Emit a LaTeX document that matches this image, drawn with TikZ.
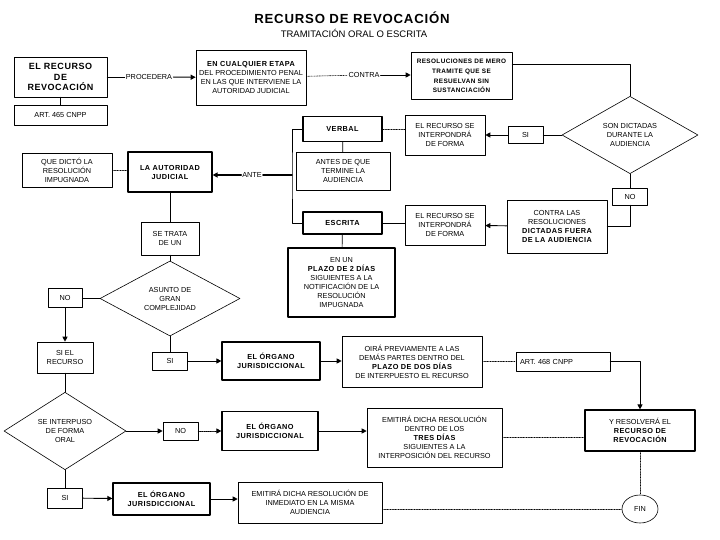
\documentclass[tikz,border=0pt]{standalone}
\usepackage{fontspec}
\setmainfont{Liberation Sans}
\newfontfamily\widefont{Liberation Sans}[LetterSpace=6]
\newcommand\hvy[1]{{\widefont\bfseries #1}}
\usetikzlibrary{arrows.meta,shapes.geometric}

\begin{document}
\begin{tikzpicture}[x=1pt,y=-1pt,line cap=round,line join=round,
  txt/.style={font=\fontsize{7.3}{9}\selectfont,align=center,inner sep=1pt},
  box/.style={txt,draw,line width=0.6pt},
  heavybox/.style={box,line width=1.2pt},
  ask/.style={txt,draw,diamond,line width=0.6pt,inner sep=0pt},
  wire/.style={line width=0.7pt},
  faint/.style={line width=0.6pt,densely dotted},
  tip/.style={-{Triangle[length=5pt,width=5pt]},line width=0.9pt}]
  \useasboundingbox (0,0) rectangle (720,540);
  \node[inner sep=0pt,font=\widefont\bfseries\fontsize{13.2}{15}\selectfont] (title) at (352,18) {RECURSO DE REVOCACIÓN};
  \node[inner sep=0pt,font=\fontsize{9.5}{11}\selectfont] (subtitle) at (354,33) {TRAMITACIÓN ORAL O ESCRITA};
  \node[box,minimum width=93,minimum height=40,font=\widefont\bfseries\fontsize{9}{10.5}\selectfont] (recurso) at (60.5,77) {EL RECURSO\\DE\\REVOCACIÓN};
  \node[box,minimum width=93,minimum height=20] (art465) at (60.5,115) {ART.\ 465 CNPP};
  \node[txt] (procedera) at (149,77) {PROCEDERA};
  \node[box,minimum width=110,minimum height=55] (etapa) at (251,77.5) {\hvy{EN CUALQUIER ETAPA}\\DEL PROCEDIMIENTO PENAL\\EN LAS QUE INTERVIENE LA\\AUTORIDAD JUDICIAL};
  \node[txt] (contra) at (364,75) {CONTRA};
  \node[box,minimum width=101,minimum height=47,font=\fontsize{6.4}{9.6}\selectfont] (mero) at (461.5,76) {\hvy{RESOLUCIONES DE MERO}\\\hvy{TRAMITE QUE SE}\\\hvy{RESUELVAN SIN}\\\hvy{SUSTANCIACIÓN}};
  \node[ask,minimum width=136,minimum height=64] (dictadas) at (630,135) {SON DICTADAS\\DURANTE LA\\AUDIENCIA};
  \node[box,minimum width=35,minimum height=17] (si1) at (525.5,135) {SI};
  \node[box,minimum width=80,minimum height=40] (forma1) at (445,135) {EL RECURSO SE\\INTERPONDRÁ\\DE FORMA};
  \node[heavybox,minimum width=79,minimum height=25] (verbal) at (342.5,129) {\hvy{VERBAL}};
  \node[box,minimum width=94,minimum height=38] (antes) at (343,171) {ANTES DE QUE\\TERMINE LA\\AUDIENCIA};
  \node[heavybox,minimum width=79,minimum height=22] (escrita) at (342.5,223) {\hvy{ESCRITA}};
  \node[box,minimum width=80,minimum height=40] (forma2) at (445,225) {EL RECURSO SE\\INTERPONDRÁ\\DE FORMA};
  \node[box,minimum width=100,minimum height=53] (fuera) at (557,226.5) {CONTRA LAS\\RESOLUCIONES\\\hvy{DICTADAS FUERA}\\\hvy{DE LA AUDIENCIA}};
  \node[box,minimum width=35,minimum height=17] (no1) at (630,196.5) {NO};
  \node[heavybox,minimum width=107,minimum height=69] (plazo2) at (341.5,282.5) {EN UN\\\hvy{PLAZO DE 2 DÍAS}\\SIGUIENTES A LA\\NOTIFICACIÓN DE LA\\RESOLUCIÓN\\IMPUGNADA};
  \coordinate (brk) at (292,175);
  \node[txt] (ante) at (252,175) {ANTE};
  \node[heavybox,minimum width=84,minimum height=40] (autoridad) at (170,172) {\hvy{LA AUTORIDAD}\\\hvy{JUDICIAL}};
  \node[box,minimum width=90,minimum height=34] (dicto) at (67,170) {QUE DICTÓ LA\\RESOLUCIÓN\\IMPUGNADA};
  \node[box,minimum width=58,minimum height=33] (setrata) at (170,238.5) {SE TRATA\\DE UN};
  \node[ask,minimum width=140,minimum height=63] (asunto) at (170,298.5) {ASUNTO DE\\GRAN\\COMPLEJIDAD};
  \node[box,minimum width=34,minimum height=19] (no2) at (65,298) {NO};
  \node[box,minimum width=56,minimum height=31] (sielrec) at (65,357.5) {SI EL\\RECURSO};
  \node[box,minimum width=35,minimum height=18] (si2) at (170,361) {SI};
  \node[heavybox,minimum width=98,minimum height=38] (organo1) at (271,361) {\hvy{EL ÓRGANO}\\\hvy{JURISDICCIONAL}};
  \node[box,minimum width=140,minimum height=51] (oira) at (412,361.5) {OIRÁ PREVIAMENTE A LAS\\DEMÁS PARTES DENTRO DEL\\\hvy{PLAZO DE DOS DÍAS}\\DE INTERPUESTO EL RECURSO};
  \node[box,minimum width=94,minimum height=19,text width=86,align=left] (art468) at (563,361.5) {ART.\ 468 CNPP};
  \node[heavybox,minimum width=110,minimum height=41] (resolvera) at (640,430.5) {Y RESOLVERÁ EL\\\hvy{RECURSO DE}\\\hvy{REVOCACIÓN}};
  \node[txt,draw,ellipse,line width=0.6pt,minimum width=36,minimum height=28] (fin) at (640,509) {FIN};
  \node[ask,minimum width=122,minimum height=65] (oral) at (65,431) {SE INTERPUSO\\DE FORMA\\ORAL};
  \node[box,minimum width=35,minimum height=18] (no3) at (180.5,431) {NO};
  \node[heavybox,minimum width=96,minimum height=39] (organo2) at (270,431) {\hvy{EL ÓRGANO}\\\hvy{JURISDICCIONAL}};
  \node[box,minimum width=135,minimum height=59] (tres) at (434.5,437.5) {EMITIRÁ DICHA RESOLUCIÓN\\DENTRO DE LOS\\\hvy{TRES DÍAS}\\SIGUIENTES A LA\\INTERPOSICIÓN DEL RECURSO};
  \node[box,minimum width=35,minimum height=20] (si3) at (65,498) {SI};
  \node[heavybox,minimum width=97,minimum height=32] (organo3) at (161.5,499) {\hvy{EL ÓRGANO}\\\hvy{JURISDICCIONAL}};
  \node[box,minimum width=144,minimum height=41] (inmediato) at (310,502.5) {EMITIRÁ DICHA RESOLUCIÓN DE\\INMEDIATO EN LA MISMA\\AUDIENCIA};
  \draw[wire] (recurso) -- (art465);
  \draw[wire] (recurso) -- (procedera);
  \draw[tip] (procedera) -- (etapa);
  \draw[faint] (etapa) -- (contra);
  \draw[tip] (contra) -- (contra -| mero.west);
  \draw[wire] ([yshift=12pt]mero.east) -| (dictadas.north);
  \draw[wire] (dictadas.west) -- (si1.east);
  \draw[tip] (si1) -- (forma1);
  \draw[faint] (forma1.west |- verbal) -- (verbal.east);
  \draw[wire] (verbal) -- (antes);
  \draw[wire] (dictadas.south) -- (no1.north);
  \draw[wire] (no1.south) |- (fuera.east);
  \draw[tip] (fuera) -- (forma2);
  \draw[wire] (forma2.west |- escrita) -- (escrita.east);
  \draw[wire] (escrita) -- (plazo2);
  \draw[wire] (verbal.west) -| (brk) |- (escrita.west);
  \draw[line width=1.4pt] (brk) -- (ante);
  \draw[tip,line width=2pt] (ante) -- (ante -| autoridad.east);
  \draw[faint] (dicto) -- (dicto -| autoridad.west);
  \draw[wire] (autoridad) -- (setrata);
  \draw[wire] (setrata) -- (asunto);
  \draw[wire] (asunto.west) -- (asunto.west -| no2.east);
  \draw[tip] (no2) -- (sielrec);
  \draw[wire] (sielrec) -- (oral);
  \draw[wire] (asunto) -- (si2);
  \draw[tip] (si2) -- (organo1);
  \draw[tip] (organo1) -- (organo1 -| oira.west);
  \draw[faint] (oira) -- (art468);
  \draw[tip] (art468.east) -| (resolvera.north);
  \draw[tip] (oral.east) -- (no3.west);
  \draw[tip,densely dotted] (no3) -- (organo2);
  \draw[tip] (organo2) -- (organo2 -| tres.west);
  \draw[faint] (tres.east) -- (tres.east -| resolvera.west);
  \draw[faint] (resolvera) -- (fin);
  \draw[wire] (oral) -- (si3);
  \draw[tip] (si3) -- (organo3);
  \draw[tip] (organo3) -- (organo3 -| inmediato.west);
  \draw[faint] (inmediato.east |- fin) -- (fin.west);
\end{tikzpicture}
\end{document}
